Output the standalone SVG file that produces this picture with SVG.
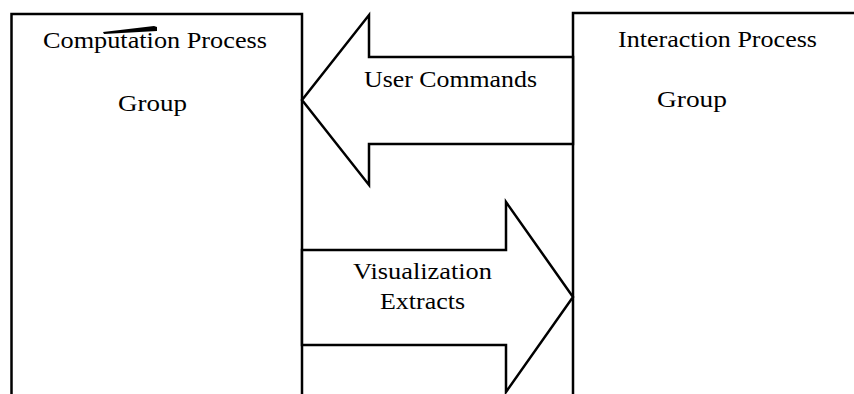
<svg xmlns="http://www.w3.org/2000/svg" width="854" height="394" viewBox="0 0 854 394">
  <style>
    .box { fill: none; stroke: #000; stroke-width: 2.5; }
    .arrow { fill: #fff; stroke: #000; stroke-width: 2.5; stroke-linejoin: miter; }
    .label { font-family: "Liberation Serif", "Times New Roman", serif; font-size: 23px; fill: #000; }
  </style>
  <rect width="854" height="394" fill="#fff"/>

  <!-- Computation Process Group -->
  <g id="computation-group">
    <path class="box" d="M11.5,400 V14 H302 V400"/>
    <text class="label" x="43" y="48" textLength="224" lengthAdjust="spacingAndGlyphs">Computation Process</text>
    <text class="label" x="118" y="111" textLength="69" lengthAdjust="spacingAndGlyphs">Group</text>
    <!-- pen stroke over the heading -->
    <polygon points="103,32 154,26 157,27 157,31 104,34" fill="#000"/>
  </g>

  <!-- Interaction Process Group -->
  <g id="interaction-group">
    <path class="box" d="M573,400 V13 H856"/>
    <text class="label" x="618" y="47" textLength="199" lengthAdjust="spacingAndGlyphs">Interaction Process</text>
    <text class="label" x="657" y="107" textLength="70" lengthAdjust="spacingAndGlyphs">Group</text>
  </g>

  <!-- Block arrows between the groups -->
  <g id="connectors">
    <g id="user-commands">
      <polygon class="arrow" points="573,57 369,57 369,15 302,100 369,185 369,144 573,144"/>
      <text class="label" x="364" y="87" textLength="173" lengthAdjust="spacingAndGlyphs">User Commands</text>
    </g>
    <g id="visualization-extracts">
      <polygon class="arrow" points="302,250 506,250 506,202 573,297 506,392 506,345 302,345"/>
      <text class="label" x="353" y="279" textLength="139" lengthAdjust="spacingAndGlyphs">Visualization</text>
      <text class="label" x="380" y="309" textLength="85" lengthAdjust="spacingAndGlyphs">Extracts</text>
    </g>
  </g>
</svg>
